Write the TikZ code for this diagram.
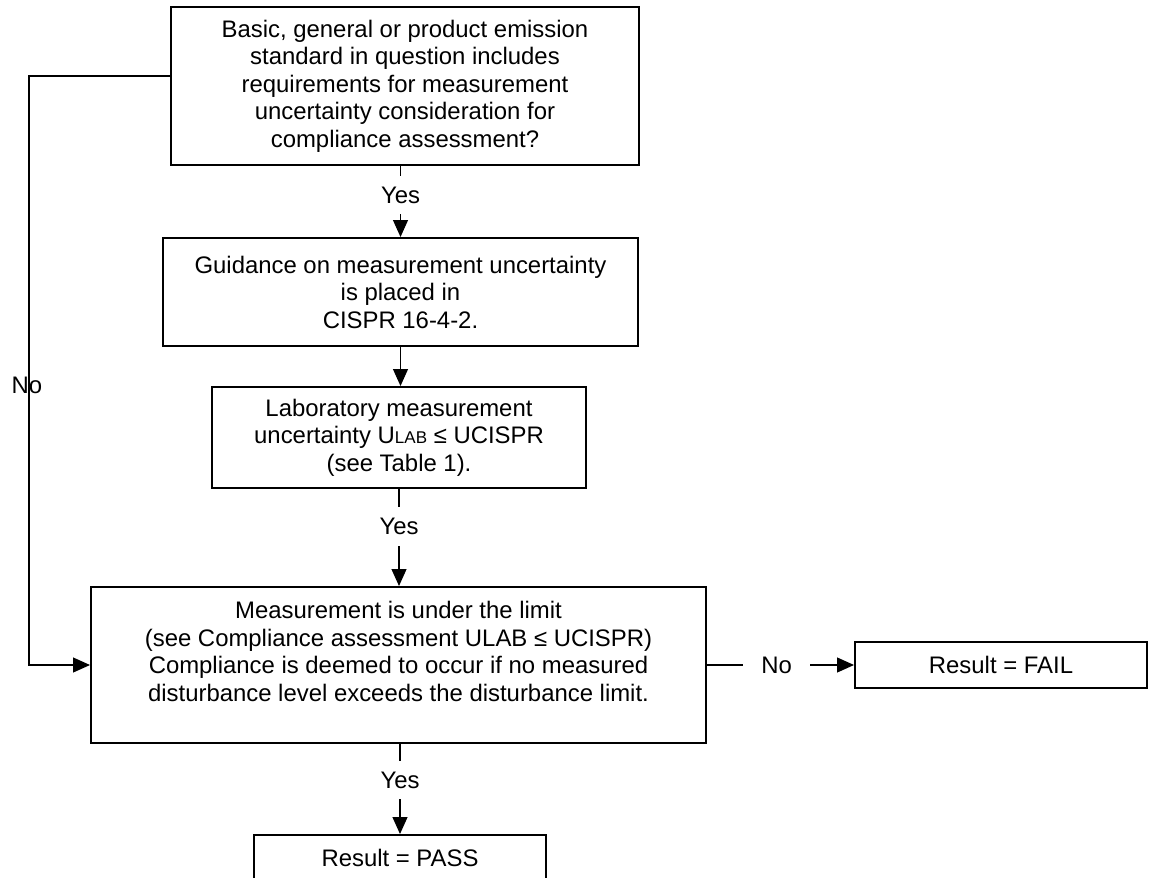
\documentclass[tikz,border=0pt]{standalone}
\usepackage{fontspec}
\setmainfont{Liberation Sans}
\usetikzlibrary{arrows.meta}
\newcommand{\labsub}{{\fontsize{8.5}{8.5}\selectfont LAB}}

\begin{document}
\begin{tikzpicture}[
        x=0.5pt, y=-0.5pt,
        every node/.style={font={\fontsize{11.95}{13.75}\selectfont}},
        box/.style={draw, line width=1pt, align=center, inner sep=0pt},
        link/.style={line width=0.6pt, -{Triangle[length=8.5pt,width=7.5pt]}},
        gap/.style={fill=white, inner xsep=9pt, inner ysep=5.5pt}
    ]
        \useasboundingbox (0,0) rectangle (1149,877);

        % Question
        \node[box, minimum width=234pt, minimum height=79pt] (std) at (405,86) {Basic, general or product emission\\standard in question includes\\requirements for measurement\\uncertainty consideration for\\compliance assessment?};

        % Steps
        \node[box, minimum width=237.5pt, minimum height=54pt] (guide) at (400.5,292) {Guidance on measurement uncertainty\\is placed in\\CISPR 16-4-2.};
        \node[box, minimum width=187pt, minimum height=50.5pt] (lab) at (399,437.5) {Laboratory measurement\\uncertainty U\labsub{} ≤ UCISPR\\(see Table 1).};
        \node[box, minimum width=307.5pt, minimum height=78pt] (meas) at (398.5,665) {Measurement is under the limit\\(see Compliance assessment ULAB ≤ UCISPR)\\Compliance is deemed to occur if no measured\\disturbance level exceeds the disturbance limit.\\ \mbox{}};

        % Results
        \node[box, minimum width=146pt, minimum height=23pt] (fail) at (1001,665) {Result = FAIL};
        \node[box, minimum width=146pt, minimum height=23pt] (pass) at (400,858) {Result = PASS};

        % Connect nodes
        \coordinate (nobend) at (29,76);
        \draw[link] (std.south -| guide.north) -- node[gap, pos=0.41] {Yes} (guide.north);
        \draw[link] (guide.south) -- (guide.south |- lab.north);
        \draw[link] (lab.south) -- node[gap, pos=0.39] {Yes} (lab.south |- meas.north);
        \draw[link] (meas.south -| pass.north) -- node[gap, pos=0.4] {Yes} (pass.north);
        \draw[link] (meas) -- node[gap, pos=0.473] {No} (fail);
        \draw[link] (std.west |- nobend) -- (nobend) |- node[pos=0.263, inner sep=0pt, xshift=-1pt] {No} (meas.west);
    \end{tikzpicture}
\end{document}
